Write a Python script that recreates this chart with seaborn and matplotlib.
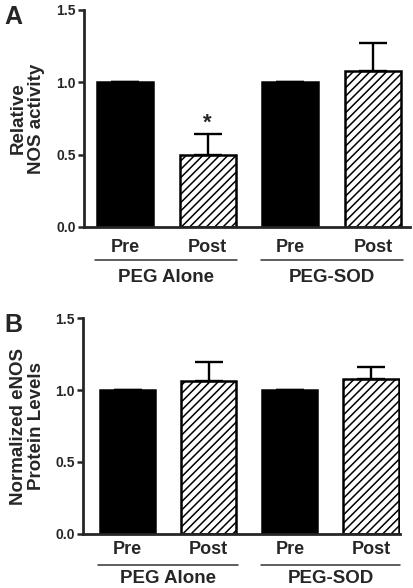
import matplotlib
matplotlib.use("Agg")
import matplotlib.pyplot as plt
import matplotlib.transforms as mtransforms
import seaborn as sns
import pandas as pd

# datos
bar_keys = ["PEG Alone Pre", "PEG Alone Post", "PEG-SOD Pre", "PEG-SOD Post"]
tick_labels = ["Pre", "Post", "Pre", "Post"]
groups = ["PEG Alone", "PEG-SOD"]

nos_activity = [1.0, 0.50, 1.0, 1.08]
nos_activity_err = [0.0, 0.14, 0.0, 0.19]

enos_protein = [1.0, 1.065, 1.0, 1.075]
enos_protein_err = [0.0, 0.13, 0.0, 0.085]

bar_colors = ["black", "white", "black", "white"]

sns.set_style("ticks")
plt.rcParams["font.family"] = ["Liberation Sans", "DejaVu Sans"]
plt.rcParams["font.weight"] = "bold"
plt.rcParams["hatch.linewidth"] = 1.1

fig = plt.figure(figsize=(4.13, 5.88), dpi=100)


def panel(rect, values, errors, ylabel, letter, xlim, label_pad, line_y, group_y, star=False):
    ax = fig.add_axes(rect)
    df = pd.DataFrame({"cond": bar_keys, "value": values})
    sns.barplot(data=df, x="cond", y="value", hue="cond", order=bar_keys,
                palette=dict(zip(bar_keys, bar_colors)), legend=False,
                errorbar=None, width=0.68, edgecolor="black", linewidth=1.8, ax=ax)
    for i, p in enumerate(ax.patches):
        if tick_labels[i] == "Post":
            p.set_hatch("////")
    # barras de error solo hacia arriba
    ax.errorbar(range(len(values)), values, yerr=[[0] * len(errors), errors],
                fmt="none", ecolor="black", elinewidth=1.7, capsize=10, capthick=1.7)
    if star:
        ax.text(1, values[1] + errors[1] + 0.005, "*", ha="center", va="bottom",
                fontsize=16, fontweight="bold")

    ax.set_ylim(0, 1.5)
    ax.set_yticks([0.0, 0.5, 1.0, 1.5])
    ax.set_yticklabels(["0.0", "0.5", "1.0", "1.5"], fontsize=10, fontweight="bold")
    ax.set_xlim(*xlim)
    ax.set_xticks(range(4))
    ax.set_xticklabels(tick_labels, fontsize=13, fontweight="bold")
    ax.tick_params(axis="x", length=0, pad=label_pad)
    ax.tick_params(axis="y", length=4, width=1.8, pad=2)
    ax.set_xlabel("")
    ax.set_ylabel(ylabel, fontsize=13.5, fontweight="bold", linespacing=1.05)
    ax.yaxis.set_label_coords(-0.12, 0.5)
    sns.despine(ax=ax)
    for s in ["left", "bottom"]:
        ax.spines[s].set_linewidth(2.0)

    # líneas y etiquetas de grupo
    trans = mtransforms.blended_transform_factory(ax.transData, ax.transAxes)
    for g, (a, b) in zip(groups, [(0, 1), (2, 3)]):
        ax.plot([a - 0.36, b + 0.36], [line_y, line_y], color="#333333", lw=1.1,
                transform=trans, clip_on=False)
        ax.text((a + b) / 2, group_y, g, transform=trans, ha="center", va="center",
                fontsize=13.5, fontweight="bold")
    fig.text(0.01, rect[1] + rect[3] + 0.008, letter, fontsize=18, fontweight="bold",
             va="top", ha="left")
    return ax


panel([0.203, 0.614, 0.790, 0.369], nos_activity, nos_activity_err,
      "Relative\nNOS activity", "A", (-0.5, 3.45), 9, -0.152, -0.232, star=True)
panel([0.201, 0.092, 0.768, 0.367], enos_protein, enos_protein_err,
      "Normalized eNOS\nProtein Levels", "B", (-0.55, 3.36), 5, -0.144, -0.205)

fig.savefig("out.png", dpi=100)
